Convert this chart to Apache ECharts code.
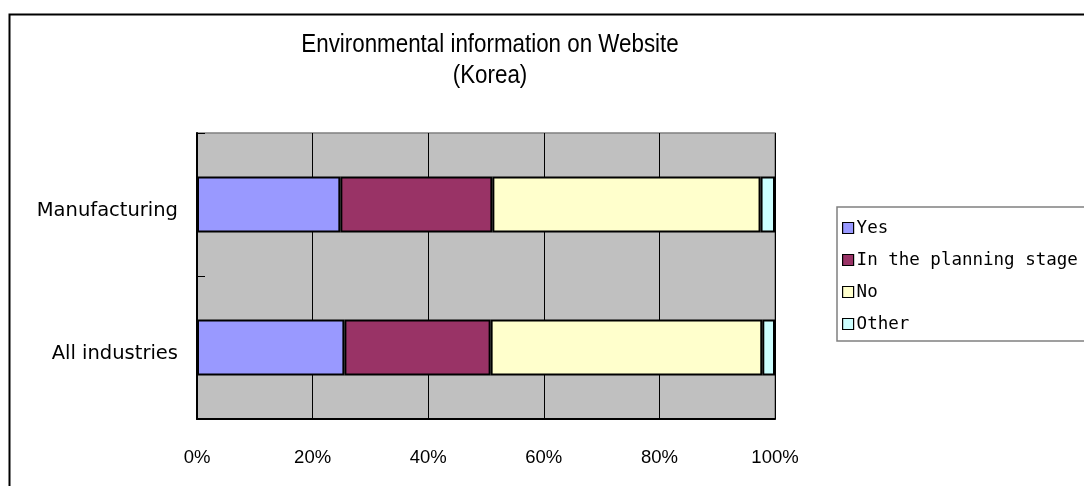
<!DOCTYPE html>
<html>
<head>
<meta charset="utf-8">
<script src="https://cdn.jsdelivr.net/npm/echarts@6/dist/echarts.min.js"></script>
<style>html,body{margin:0;padding:0;background:#fff}#c{width:1084px;height:486px}</style>
</head>
<body>
<div id="c"></div>
<script>
const titleLines = ['Environmental information on Website', '(Korea)'];
const categories = ['All industries', 'Manufacturing'];
const seriesNames = ['Yes', 'In the planning stage', 'No', 'Other'];
const yesValues = [25.5, 24.8];
const planningValues = [25.3, 26.3];
const noValues = [47.0, 46.4];
const otherValues = [2.2, 2.5];
const xTicks = [0, 20, 40, 60, 80, 100];
const colors = ['#9999FF', '#993366', '#FFFFCC', '#CCFFFF'];

const allValues = [yesValues, planningValues, noValues, otherValues];
const chart = echarts.init(document.getElementById('c'), null, {renderer: 'canvas'});
const sansFont = '"DejaVu Sans", sans-serif';
const monoFont = '"DejaVu Sans Mono", monospace';
const titleFont = '"Liberation Sans", Arial, sans-serif';
chart.setOption({
  animation: false,
  backgroundColor: '#fff',
  graphic: [{
    type: 'rect', left: 7, top: 12, silent: true,
    shape: {x: 0, y: 0, width: 1100, height: 500},
    style: {fill: 'none', stroke: '#000', lineWidth: 2}
  }].concat(titleLines.map((t, i) => ({
    type: 'text', x: 490, y: 45 + i * 31, scaleX: 0.86, silent: true,
    style: {text: t, fill: '#000', font: '26px ' + titleFont, textAlign: 'center', textVerticalAlign: 'middle'}
  }))),
  legend: {
    orient: 'vertical', left: 837, top: 207,
    data: seriesNames,
    icon: 'rect', itemWidth: 11, itemHeight: 11, itemGap: 12,
    padding: [11, 40, 7, 5],
    backgroundColor: '#fff', borderColor: '#808080', borderWidth: 1.5,
    textStyle: {fontFamily: monoFont, fontSize: 17.5, lineHeight: 20, color: '#000', padding: [0, 0, 0, -2]},
    itemStyle: {borderColor: '#000', borderWidth: 1.2}
  },
  grid: {
    left: 197, right: 309, top: 133, bottom: 67,
    show: true, backgroundColor: '#C0C0C0', borderColor: '#808080', borderWidth: 1.5
  },
  xAxis: {
    type: 'value', min: 0, max: 100, interval: 20,
    axisLabel: {formatter: v => xTicks.includes(v) ? v + '%' : '', fontFamily: titleFont, fontSize: 18.5, color: '#000', margin: 29},
    axisLine: {show: true, lineStyle: {color: '#000', width: 2}},
    axisTick: {show: false},
    splitLine: {show: true, lineStyle: {color: '#000', width: 1}}
  },
  yAxis: {
    type: 'category', data: categories,
    axisLabel: {
      formatter: v => '{c|' + v + '}',
      margin: 19,
      rich: {c: {fontFamily: sansFont, fontSize: 19.5, color: '#000', padding: [12, 0, 0, 0]}}
    },
    axisLine: {show: true, lineStyle: {color: '#000', width: 2}},
    axisTick: {show: true, inside: true, length: 8, lineStyle: {color: '#000'}},
    splitLine: {show: false}
  },
  series: seriesNames.map((n, i) => ({
    name: n, type: 'bar', stack: 'total',
    data: allValues[i],
    barWidth: '39%',
    itemStyle: {color: colors[i], borderColor: '#000', borderWidth: 2}
  }))
});
</script>
</body>
</html>
